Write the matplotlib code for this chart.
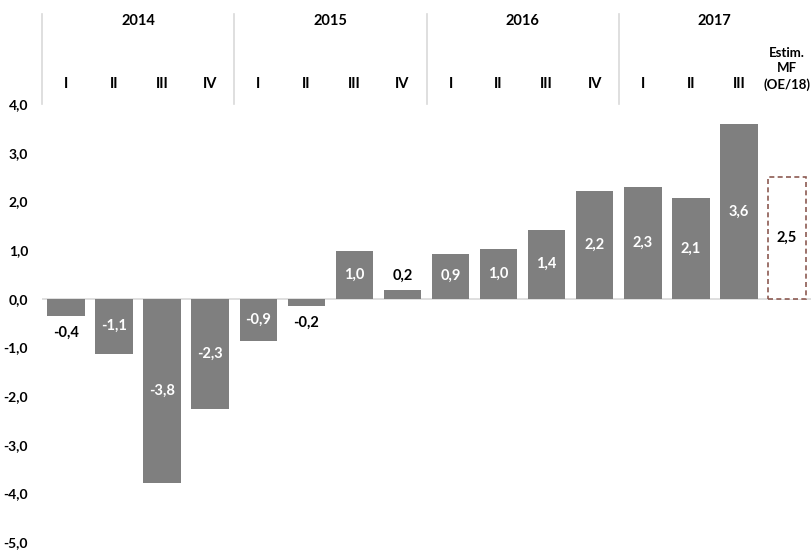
import numpy as np
import matplotlib.pyplot as plt
import matplotlib.transforms as mtransforms

plt.rcParams['font.family'] = ['Lato', 'DejaVu Sans']

years = ["2014", "2015", "2016", "2017"]
quarters = ["I", "II", "III", "IV", "I", "II", "III", "IV",
            "I", "II", "III", "IV", "I", "II", "III", "Estim.\nMF\n(OE/18)"]
values = [-0.36, -1.13, -3.78, -2.26, -0.86, -0.15, 0.98, 0.17,
          0.92, 1.03, 1.42, 2.21, 2.30, 2.06, 3.59, 2.50]
labels = ["-0,4", "-1,1", "-3,8", "-2,3", "-0,9", "-0,2", "1,0", "0,2",
          "0,9", "1,0", "1,4", "2,2", "2,3", "2,1", "3,6", "2,5"]
yticks = [4, 3, 2, 1, 0, -1, -2, -3, -4, -5]

gray = "#7f7f7f"
n = len(values)
x = np.arange(n)

fig = plt.figure(figsize=(8.11, 5.51), dpi=100)
ax = fig.add_axes([42/811, 9/551, 1 - 42/811, 438/551])

# real quarters
ax.bar(x[:-1], values[:-1], width=0.78, color=gray, zorder=2)
# estimate, dashed outline
ax.bar(x[-1], values[-1], width=0.78, facecolor="white", edgecolor="#8c5a52",
       linestyle=(0, (3, 2)), linewidth=1.2, zorder=2)

ax.axhline(0, color="#d9d9d9", linewidth=1.2, zorder=1)

for i in range(n):
    v = values[i]
    if i == n - 1:
        ax.text(i, v / 2, labels[i], ha="center", va="center",
                fontsize=10.5, fontweight="bold", color="black")
    elif abs(v) < 0.5:
        off = -0.35 if v < 0 else 0.3
        ax.text(i, v + off, labels[i], ha="center", va="center",
                fontsize=10.5, fontweight="bold", color="black")
    else:
        ax.text(i, v / 2, labels[i], ha="center", va="center",
                fontsize=10.5, fontweight="bold", color="white")

ax.set_xlim(-0.5, n - 0.5)
ax.set_ylim(-5, 4)
ax.set_xticks([])
ax.set_yticks(yticks)
ax.set_yticklabels([f"{t:.1f}".replace(".", ",") for t in yticks],
                   fontsize=10, fontweight="bold")
ax.tick_params(axis="y", length=0, pad=10)
for s in ax.spines.values():
    s.set_visible(False)

# header: years, quarters and separators above the plot
trans = mtransforms.blended_transform_factory(ax.transData, ax.transAxes)
for k, yr in enumerate(years):
    ax.text(4 * k + 1.5, 1.19, yr, transform=trans, ha="center", va="center",
            fontsize=10.5, fontweight="bold")
    ax.plot([4 * k - 0.5, 4 * k - 0.5], [1.0, 1.205], transform=trans,
            color="#d9d9d9", linewidth=1.2, clip_on=False)
for i, q in enumerate(quarters):
    fs = 9.5 if i == n - 1 else 10.5
    ax.text(i, 1.03, q, transform=trans, ha="center", va="bottom",
            fontsize=fs, fontweight="bold", linespacing=1.35)

fig.savefig("out.png", dpi=100)
